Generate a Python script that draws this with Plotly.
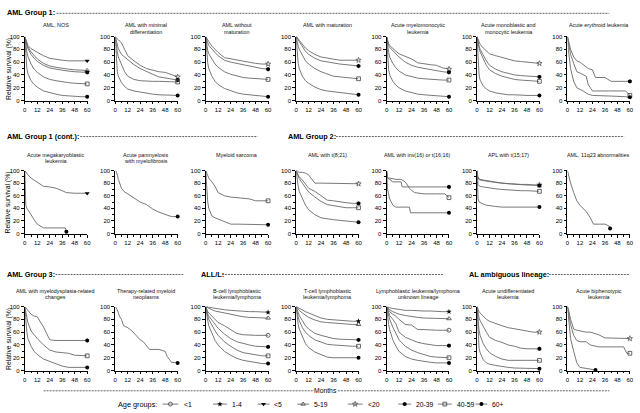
import plotly.graph_objects as go

# ---------------- data ----------------
MONTHS = [0, 1, 2, 3, 6, 9, 12, 18, 24, 30, 36, 42, 48, 54, 60]
X_TICKS = [0, 12, 24, 36, 48, 60]
Y_TICKS = [0, 20, 40, 60, 80, 100]
AGE_GROUPS = ["<1", "1-4", "<5", "5-19", "<20", "20-39", "40-59", "60+"]

AML_NOS = {
    "<5":    [100, 95, 90, 86, 81, 78, 75, 70, 66, 64, 63, 62, 62, 62, 62],
    "5-19":  [100, 93, 88, 84, 76, 70, 65, 58, 54, 52, 50, 49, 48, 47, 47],
    "20-39": [100, 91, 86, 81, 72, 66, 61, 55, 51, 49, 47, 46, 45, 44, 44],
    "40-59": [100, 85, 76, 69, 57, 49, 44, 37, 33, 31, 29, 28, 27, 26, 26],
    "60+":   [100, 62, 50, 42, 31, 25, 21, 15, 12, 10, 8, 7, 7, 6, 6],
}
AML_MIN_DIFF = {
    "<20":   [100, 97, 96, 95, 90, 80, 70, 62, 55, 50, 47, 45, 44, 40, 37],
    "20-39": [100, 92, 86, 81, 72, 68, 64, 56, 50, 45, 41, 37, 35, 33, 32],
    "40-59": [100, 85, 76, 68, 55, 45, 38, 33, 31, 30, 30, 30, 30, 29, 29],
    "60+":   [100, 60, 45, 38, 28, 22, 18, 15, 13, 11, 10, 9, 9, 8, 8],
}
AML_WO_MAT = {
    "<20":   [100, 97, 95, 92, 85, 80, 75, 67, 65, 64, 62, 60, 58, 57, 57],
    "20-39": [100, 93, 90, 86, 80, 75, 70, 63, 60, 58, 55, 53, 51, 50, 49],
    "40-59": [100, 85, 78, 73, 64, 57, 52, 45, 41, 38, 36, 35, 34, 33, 33],
    "60+":   [100, 70, 58, 50, 38, 30, 25, 19, 15, 12, 10, 9, 8, 7, 6],
}
AML_W_MAT = {
    "<20":   [100, 99, 97, 94, 88, 82, 78, 72, 68, 66, 64, 63, 63, 63, 63],
    "20-39": [100, 98, 95, 92, 84, 77, 72, 66, 62, 60, 58, 57, 56, 55, 54],
    "40-59": [100, 90, 85, 80, 70, 62, 57, 50, 45, 41, 38, 37, 36, 35, 34],
    "60+":   [100, 72, 58, 50, 38, 31, 27, 21, 17, 15, 14, 12, 11, 10, 9],
}
AML_MYELOMONO = {
    "<20":   [100, 92, 89, 86, 81, 77, 73, 69, 65, 59, 57, 56, 55, 51, 49],
    "20-39": [100, 90, 86, 83, 78, 73, 68, 60, 55, 52, 50, 48, 46, 45, 44],
    "40-59": [100, 82, 75, 68, 58, 51, 46, 40, 37, 35, 34, 33, 33, 32, 32],
    "60+":   [100, 62, 48, 40, 30, 24, 20, 15, 12, 10, 9, 8, 7, 6, 6],
}
AML_MONOBLASTIC = {
    "<20":   [100, 95, 92, 88, 82, 77, 73, 70, 67, 64, 62, 61, 60, 59, 58],
    "20-39": [100, 90, 85, 80, 70, 62, 55, 49, 45, 42, 40, 39, 38, 37, 37],
    "40-59": [100, 88, 82, 76, 64, 55, 48, 42, 38, 35, 33, 32, 31, 30, 30],
    "60+":   [100, 55, 40, 32, 23, 18, 15, 12, 10, 9, 9, 8, 8, 8, 8],
}
MONTHS_ERY = [0, 1, 3, 6, 9, 12, 15, 18, 20, 24, 27, 36, 42, 56, 60]
AML_ERYTHROID = {
    "20-39": [100, 92, 80, 68, 62, 60, 56, 52, 50, 48, 36, 36, 30, 30, 30],
    "40-59": [100, 88, 72, 58, 45, 43, 40, 38, 25, 15, 15, 15, 15, 15, 8],
    "60+":   [100, 78, 50, 30, 20, 18, 15, 12, 10, 8, 8, 8, 7, 6, 5],
}
MONTHS_MEGA = [0, 1, 2, 3, 6, 9, 12, 18, 24, 30, 36, 39, 40, 48, 54, 60]
AML_MEGAKARYO = {
    "<5":  [100, 97, 95, 93, 88, 85, 82, 75, 74, 72, 68, 65, 65, 64, 64, 64],
    "60+": [100, 45, 40, 37, 30, 22, 15, 9, 9, 9, 9, 9, 3, None, None, None],
}
AML_PANMYELOSIS = {
    "60+": [100, 98, 93, 86, 72, 66, 63, 56, 50, 46, 39, 34, 30, 27, 27],
}
MYELOID_SARCOMA = {
    "40-59": [100, 95, 91, 88, 82, 75, 65, 60, 58, 57, 56, 55, 52, 52, 52],
    "60+":   [100, 70, 50, 40, 28, 25, 23, 20, 15, 15, 15, 14, 14, 14, 14],
}
AML_T821 = {
    "<20":   [100, 100, 98, 97, 97, 96, 93, 80, 80, 80, 79, 79, 79, 79, 79],
    "20-39": [100, 97, 93, 90, 85, 78, 72, 67, 60, 53, 52, 50, 49, 48, 48],
    "40-59": [100, 95, 90, 87, 80, 72, 66, 58, 51, 46, 44, 42, 41, 41, 41],
    "60+":   [100, 85, 75, 67, 55, 45, 38, 30, 25, 23, 22, 21, 20, 19, 18],
}
MONTHS_INV16 = [0, 1, 3, 6, 9, 14, 15, 18, 22, 23, 27, 36, 48, 56, 60]
AML_INV16 = {
    "20-39": [100, 88, 86, 82, 82, 82, 74, 74, 74, 74, 74, 74, 74, 74, 74],
    "40-59": [100, 88, 88, 87, 86, 86, 85, 82, 72, 70, 65, 63, 63, 63, 57],
    "60+":   [100, 70, 55, 45, 42, 42, 42, 42, 42, 33, 33, 33, 33, 33, 33],
}
APL_T1517 = {
    "<20":   [100, 88, 87, 86, 85, 84, 83, 81, 80, 79, 78, 78, 77, 77, 77],
    "20-39": [100, 87, 86, 85, 84, 83, 82, 81, 80, 79, 79, 78, 78, 77, 76],
    "40-59": [100, 78, 76, 75, 74, 73, 72, 71, 70, 69, 69, 68, 68, 67, 67],
    "60+":   [100, 55, 50, 49, 47, 45, 44, 43, 42, 42, 42, 42, 42, 42, 42],
}
MONTHS_11Q23 = [0, 1, 3, 6, 9, 12, 18, 22, 25, 30, 36, 40, 41]
AML_11Q23 = {
    "60+": [100, 92, 80, 65, 52, 45, 35, 25, 15, 15, 15, 12, 8],
}
AML_MDS = {
    "20-39": [100, 98, 97, 95, 88, 85, 84, 68, 48, 47, 47, 47, 47, 47, 47],
    "40-59": [100, 90, 82, 75, 62, 55, 50, 40, 32, 29, 28, 27, 24, 23, 23],
    "60+":   [100, 75, 60, 50, 38, 30, 25, 18, 14, 10, 7, 5, 5, 5, 5],
}
MONTHS_TR = [0, 2, 4, 6, 8, 12, 16, 20, 24, 27, 30, 33, 42, 48, 50, 54, 60]
THERAPY_RELATED = {
    "60+": [100, 95, 85, 80, 70, 67, 62, 55, 48, 45, 38, 33, 33, 30, 22, 13, 12],
}
B_CELL = {
    "1-4":   [100, 100, 99, 99, 98, 97, 96, 95, 94, 93, 93, 92, 92, 91, 91],
    "5-19":  [100, 99, 98, 97, 95, 93, 92, 89, 87, 85, 84, 83, 83, 82, 82],
    "<1":    [100, 95, 92, 90, 85, 80, 75, 70, 64, 58, 56, 55, 55, 55, 55],
    "20-39": [100, 93, 88, 85, 78, 72, 66, 57, 50, 45, 42, 40, 38, 37, 37],
    "40-59": [100, 90, 85, 80, 70, 62, 55, 45, 38, 32, 28, 26, 24, 23, 23],
    "60+":   [100, 85, 78, 70, 57, 47, 40, 30, 24, 19, 16, 14, 12, 11, 11],
}
T_CELL = {
    "1-4":   [100, 99, 98, 97, 95, 92, 90, 86, 82, 80, 79, 78, 78, 77, 77],
    "5-19":  [100, 98, 96, 94, 90, 86, 83, 79, 76, 75, 74, 73, 72, 72, 72],
    "20-39": [100, 95, 90, 86, 78, 70, 65, 58, 55, 52, 50, 49, 49, 48, 48],
    "40-59": [100, 90, 84, 78, 67, 60, 55, 48, 44, 41, 40, 39, 38, 38, 38],
    "60+":   [100, 82, 72, 65, 52, 42, 36, 29, 25, 21, 20, 20, 20, 20, 20],
}
LB_UNKNOWN = {
    "1-4":   [100, 99, 99, 98, 97, 96, 95, 94, 94, 93, 93, 93, 92, 92, 92],
    "5-19":  [100, 98, 96, 95, 92, 90, 88, 86, 84, 83, 82, 82, 81, 81, 81],
    "<1":    [100, 97, 95, 92, 88, 85, 80, 72, 71, 64, 64, 63, 63, 63, 63],
    "20-39": [100, 95, 90, 86, 80, 73, 60, 52, 48, 44, 42, 40, 39, 39, 39],
    "40-59": [100, 92, 86, 80, 68, 58, 48, 38, 32, 28, 25, 22, 21, 20, 20],
    "60+":   [100, 82, 72, 64, 48, 38, 30, 22, 18, 16, 14, 13, 12, 12, 12],
}
AUL = {
    "<20":   [100, 95, 92, 90, 85, 80, 77, 73, 70, 67, 65, 63, 62, 60, 60],
    "20-39": [100, 88, 82, 78, 68, 60, 52, 47, 44, 40, 38, 35, 34, 34, 34],
    "40-59": [100, 75, 62, 55, 42, 34, 28, 22, 18, 16, 16, 16, 16, 16, 16],
    "60+":   [100, 50, 35, 28, 17, 12, 10, 8, 6, 5, 4, 4, 3, 3, 3],
}
MONTHS_BIP = [0, 1, 3, 6, 9, 12, 18, 22, 27, 30, 36, 48, 54, 57, 60]
BIPHENOTYPIC = {
    "<20":   [100, 95, 80, 65, 63, 62, 60, 60, 57, 56, 51, 50, 50, 50, 50],
    "40-59": [100, 90, 72, 55, 47, 45, 45, 40, 38, 37, 37, 37, 37, 27, 27],
    "60+":   [100, 80, 50, 30, 12, 5, 3, 2, 1, None, None, None, None, None, None],
}

PANEL_TITLES = [
    ["AML, NOS"], ["AML with minimal", "differentiation"], ["AML without", "maturation"],
    ["AML with maturation"], ["Acute myelomonocytic", "leukemia"],
    ["Acute monoblastic and", "monocytic leukemia"], ["Acute erythroid leukemia"],
    ["Acute megakaryoblastic", "leukemia"], ["Acute panmyelosis", "with myelofibrosis"],
    ["Myeloid sarcoma"], ["AML with t(8;21)"], ["AML with inv(16) or t(16;16)"],
    ["APL with t(15;17)"], ["AML, 11q23 abnormalities"],
    ["AML with myelodysplasia-related", "changes"], ["Therapy-related myeloid", "neoplasms"],
    ["B-cell lymphoblastic", "leukemia/lymphoma"], ["T-cell lymphoblastic", "leukemia/lymphoma"],
    ["Lymphoblastic leukemia/lymphoma", "unknown lineage"],
    ["Acute undifferentiated", "leukemia"], ["Acute biphenotypic", "leukemia"],
]
PANEL_DATA = [
    (MONTHS, AML_NOS), (MONTHS, AML_MIN_DIFF), (MONTHS, AML_WO_MAT), (MONTHS, AML_W_MAT),
    (MONTHS, AML_MYELOMONO), (MONTHS, AML_MONOBLASTIC), (MONTHS_ERY, AML_ERYTHROID),
    (MONTHS_MEGA, AML_MEGAKARYO), (MONTHS, AML_PANMYELOSIS), (MONTHS, MYELOID_SARCOMA),
    (MONTHS, AML_T821), (MONTHS_INV16, AML_INV16), (MONTHS, APL_T1517), (MONTHS_11Q23, AML_11Q23),
    (MONTHS, AML_MDS), (MONTHS_TR, THERAPY_RELATED), (MONTHS, B_CELL), (MONTHS, T_CELL),
    (MONTHS, LB_UNKNOWN), (MONTHS, AUL), (MONTHS_BIP, BIPHENOTYPIC),
]

# ---------------- styling ----------------
W, H = 640, 413
FONT = "Liberation Sans, Arial, sans-serif"
LINE_COLOR = "#6a6a6a"
OPEN_C = "#555555"
STYLE = {
    "<1":    dict(symbol="circle-open", size=4, color=OPEN_C, line=dict(width=0.9, color=OPEN_C)),
    "1-4":   dict(symbol="star", size=4.2, color="#000000"),
    "<5":    dict(symbol="triangle-down", size=4.4, color="#000000"),
    "5-19":  dict(symbol="triangle-up-open", size=4.2, color=OPEN_C, line=dict(width=0.9, color=OPEN_C)),
    "<20":   dict(symbol="star-open", size=4, color=OPEN_C, line=dict(width=0.8, color=OPEN_C)),
    "20-39": dict(symbol="hexagon", size=4.4, color="#000000"),
    "40-59": dict(symbol="square-open", size=3.8, color=OPEN_C, line=dict(width=0.9, color=OPEN_C)),
    "60+":   dict(symbol="circle", size=4, color="#000000"),
}

COL_X0 = 23.0
COL_STEP = 91.3
PLOT_W = 63.0
ROW_TOP = [34.0, 170.0, 308.0]
ROW_BOT = [99.0, 234.0, 373.0]
TITLE_Y = [22.7, 154.0, 292.0]


def px(x):
    return x / W


def py(y):
    return 1 - y / H


def marker_of(group):
    st = STYLE[group]
    mk = dict(symbol=st["symbol"], size=st["size"], color=st["color"])
    if "line" in st:
        mk["line"] = st["line"]
    return mk


fig = go.Figure()
layout = dict(
    width=W, height=H, autosize=False,
    margin=dict(l=0, r=0, t=0, b=0, pad=0),
    paper_bgcolor="white", plot_bgcolor="rgba(0,0,0,0)",
    showlegend=False, font=dict(family=FONT, color="black"),
)
annotations = []
shapes = []

for i, (months, series) in enumerate(PANEL_DATA):
    r, c = divmod(i, 7)
    n = i + 1
    xa = "x" if n == 1 else f"x{n}"
    ya = "y" if n == 1 else f"y{n}"
    x0 = COL_X0 + COL_STEP * c
    layout["xaxis" if n == 1 else f"xaxis{n}"] = dict(
        domain=[px(x0), px(x0 + PLOT_W)], anchor=ya, range=[0, 60],
        tickvals=X_TICKS, ticks="outside", ticklen=3, tickwidth=0.8, tickcolor="black",
        showline=True, linecolor="black", linewidth=0.8, showgrid=False, zeroline=False,
        tickfont=dict(size=6, family=FONT, color="black"),
        minor=dict(tickvals=[6, 18, 30, 42, 54], ticks="outside", ticklen=2,
                   tickwidth=0.6, tickcolor="black"),
        fixedrange=True,
    )
    layout["yaxis" if n == 1 else f"yaxis{n}"] = dict(
        domain=[py(ROW_BOT[r]), py(ROW_TOP[r])], anchor=xa, range=[0, 100],
        tickvals=Y_TICKS, ticks="outside", ticklen=3, tickwidth=0.8, tickcolor="black",
        showline=True, linecolor="black", linewidth=0.8, showgrid=False, zeroline=False,
        tickfont=dict(size=6, family=FONT, color="black"),
        minor=dict(tickvals=[10, 30, 50, 70, 90], ticks="outside", ticklen=2,
                   tickwidth=0.6, tickcolor="black"),
        fixedrange=True,
    )
    for group, vals in series.items():
        xs = [m for m, v in zip(months, vals) if v is not None]
        ys = [v for v in vals if v is not None]
        fig.add_trace(go.Scatter(
            x=xs, y=ys, xaxis=xa, yaxis=ya, mode="lines",
            line=dict(color=LINE_COLOR, width=0.9), hoverinfo="skip",
        ))
    for group, vals in series.items():
        xs = [m for m, v in zip(months, vals) if v is not None]
        ys = [v for v in vals if v is not None]
        fig.add_trace(go.Scatter(
            x=[xs[-1]], y=[ys[-1]], xaxis=xa, yaxis=ya, mode="markers",
            marker=marker_of(group), cliponaxis=False, hoverinfo="skip",
        ))
    for k, line in enumerate(PANEL_TITLES[i]):
        annotations.append(dict(
            x=px(x0 + PLOT_W / 2), y=py(TITLE_Y[r] + 6.6 * k), xref="paper", yref="paper",
            text=line, showarrow=False, xanchor="center", yanchor="middle",
            font=dict(size=5.4, family=FONT, color="#111111"),
        ))

for r in range(3):
    annotations.append(dict(
        x=px(6.5), y=py((ROW_TOP[r] + ROW_BOT[r]) / 2), xref="paper", yref="paper",
        text="Relative survival (%)", showarrow=False, textangle=-90,
        xanchor="center", yanchor="middle", font=dict(size=6.8, family=FONT, color="black"),
    ))

HEADERS = [
    ("AML Group 1:", 3, 10, [(55, 613)]),
    ("AML Group 1 (cont.):", 3, 135, [(79, 258)]),
    ("AML Group 2:", 287, 135, [(337, 628)]),
    ("AML Group 3:", 3, 275, [(54, 183)]),
    ("ALL/L:", 199, 275, [(222, 445)]),
    ("AL ambiguous lineage:", 469, 275, [(552, 633)]),
]
for text, hx, hy, segs in HEADERS:
    annotations.append(dict(
        x=px(hx), y=py(hy), xref="paper", yref="paper", text=f"<b>{text}</b>",
        showarrow=False, xanchor="left", yanchor="middle",
        font=dict(size=7.3, family=FONT, color="black"),
    ))
    for a, b in segs:
        shapes.append(dict(type="line", xref="paper", yref="paper",
                           x0=px(a), x1=px(b), y0=py(hy + 0.5), y1=py(hy + 0.5),
                           line=dict(color="#222222", width=0.7, dash="2px,1px")))

annotations.append(dict(x=px(327), y=py(393), xref="paper", yref="paper", text="Months",
                        showarrow=False, xanchor="center", yanchor="middle",
                        font=dict(size=6.8, family=FONT, color="black")))
for a, b in [(42, 315), (339, 613)]:
    shapes.append(dict(type="line", xref="paper", yref="paper",
                       x0=px(a), x1=px(b), y0=py(393.5), y1=py(393.5),
                       line=dict(color="#222222", width=0.7, dash="2px,1px")))

LEG_Y = 407
annotations.append(dict(x=px(115), y=py(LEG_Y), xref="paper", yref="paper", text="Age groups:",
                        showarrow=False, xanchor="left", yanchor="middle",
                        font=dict(size=7.3, family=FONT, color="black")))
LEG_POS = {"<1": (162, 178, 182), "1-4": (213, 227, 230), "<5": (258, 270, 273),
           "5-19": (298, 310, 313), "<20": (349, 364, 367), "20-39": (400, 413, 416),
           "40-59": (440, 454, 457), "60+": (478, 490, 493)}
layout["xaxis22"] = dict(domain=[0, 1], range=[0, W], visible=False, anchor="y22", fixedrange=True)
layout["yaxis22"] = dict(domain=[0, 1], range=[H, 0], visible=False, anchor="x22", fixedrange=True)
for g in AGE_GROUPS:
    a, b, t = LEG_POS[g]
    fig.add_trace(go.Scatter(x=[a, b], y=[LEG_Y, LEG_Y], xaxis="x22", yaxis="y22", mode="lines",
                             line=dict(color=LINE_COLOR, width=0.9), hoverinfo="skip"))
    fig.add_trace(go.Scatter(x=[(a + b) / 2], y=[LEG_Y], xaxis="x22", yaxis="y22", mode="markers",
                             marker=marker_of(g), hoverinfo="skip", cliponaxis=False))
    annotations.append(dict(x=px(t), y=py(LEG_Y), xref="paper", yref="paper", text=g,
                            showarrow=False, xanchor="left", yanchor="middle",
                            font=dict(size=6.8, family=FONT, color="black")))

layout["annotations"] = annotations
layout["shapes"] = shapes
fig.update_layout(**layout)
fig.write_html(
    "out.html",
    config={"displayModeBar": False},
    post_script="document.body.style.margin='0';document.body.style.padding='0';",
)
